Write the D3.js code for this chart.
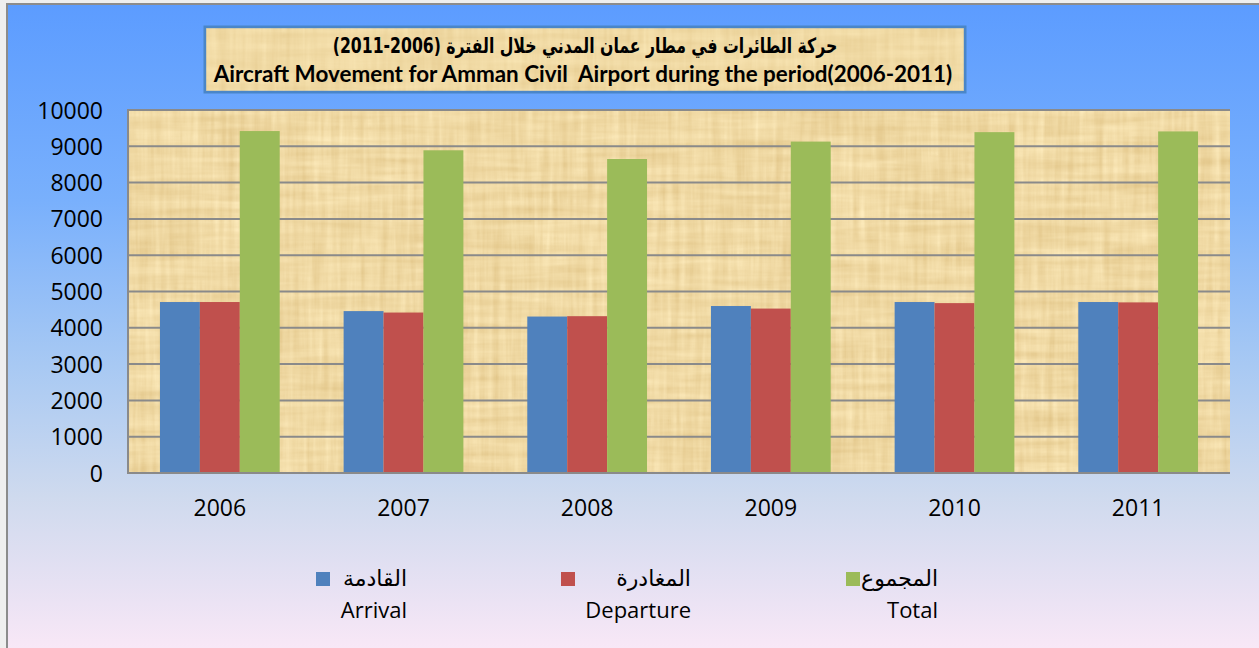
<!DOCTYPE html>
<html>
<head>
<meta charset="utf-8">
<script src="https://cdn.jsdelivr.net/npm/d3@7"></script>
<style>
  html, body { margin: 0; padding: 0; background: #efefef; }
  svg { display: block; }
</style>
</head>
<body>
<svg id="chart" width="1259" height="648"></svg>
<script>
// ---- DATA ----
const years = ["2006", "2007", "2008", "2009", "2010", "2011"];
const arrival   = [4710, 4460, 4310, 4600, 4710, 4710];
const departure = [4710, 4420, 4320, 4530, 4680, 4700];
const total     = [9420, 8890, 8650, 9130, 9390, 9410];
const seriesNamesAr = ["القادمة", "المغادرة", "المجموع"];
const seriesNamesEn = ["Arrival", "Departure", "Total"];
const yTicks = [0, 1000, 2000, 3000, 4000, 5000, 6000, 7000, 8000, 9000, 10000];
const titleAr = "حركة الطائرات في مطار عمان المدني خلال الفترة (2006-2011)";
const titleEn = "Aircraft Movement for Amman Civil  Airport during the period(2006-2011)";

const seriesValues = [arrival, departure, total];
const colors = ["#4f81bd", "#c0504d", "#9bbb59"];

const W = 1259, H = 648;
const svg = d3.select("#chart");
const defs = svg.append("defs");

// background gradient
const bg = defs.append("linearGradient").attr("id", "bgGrad")
  .attr("x1", 0).attr("y1", 0).attr("x2", 0).attr("y2", 1);
[[0, "#5c9cff"], [0.3, "#79b0fc"], [0.55, "#a8c9f3"], [0.75, "#cfdaee"], [0.88, "#e6e1f3"], [1, "#fce9f7"]]
  .forEach(([o, c]) => bg.append("stop").attr("offset", o).attr("stop-color", c));

// papyrus texture filter
const f = defs.append("filter").attr("id", "papyrus")
  .attr("x", 0).attr("y", 0).attr("width", "100%").attr("height", "100%")
  .attr("color-interpolation-filters", "sRGB");
f.append("feTurbulence").attr("type", "fractalNoise").attr("baseFrequency", "0.15 0.01")
  .attr("numOctaves", 3).attr("seed", 4).attr("result", "n1");
f.append("feTurbulence").attr("type", "fractalNoise").attr("baseFrequency", "0.01 0.12")
  .attr("numOctaves", 3).attr("seed", 9).attr("result", "n2");
f.append("feComposite").attr("in", "n1").attr("in2", "n2").attr("operator", "arithmetic")
  .attr("k2", 0.5).attr("k3", 0.5).attr("result", "n");
f.append("feColorMatrix").attr("in", "n").attr("type", "matrix")
  .attr("values", "0.16 0 0 0 0.86  0.22 0 0 0 0.74  0.3 0 0 0 0.49  0 0 0 0 1");

// outer frame
svg.append("rect").attr("x", 7).attr("y", 4).attr("width", W + 10).attr("height", H + 10)
  .attr("fill", "url(#bgGrad)").attr("stroke", "#8c8c8c").attr("stroke-width", 2);

// ---- plot area ----
const plot = { left: 128, top: 110, right: 1230, bottom: 473 };

const x0 = d3.scaleBand().domain(years).range([plot.left, plot.right])
  .paddingInner(0.348).paddingOuter(0.174);
const x1 = d3.scaleBand().domain([0, 1, 2]).range([0, x0.bandwidth()]);
const y = d3.scaleLinear().domain([0, 10000]).range([plot.bottom, plot.top]);

svg.append("rect").attr("x", plot.left).attr("y", plot.top)
  .attr("width", plot.right - plot.left).attr("height", plot.bottom - plot.top)
  .attr("fill", "#efd7a0");
svg.append("rect").attr("x", plot.left).attr("y", plot.top)
  .attr("width", plot.right - plot.left).attr("height", plot.bottom - plot.top)
  .attr("filter", "url(#papyrus)");

// gridlines
svg.append("g").selectAll("line").data(yTicks.filter(d => d > 0)).join("line")
  .attr("x1", plot.left).attr("x2", plot.right)
  .attr("y1", d => y(d)).attr("y2", d => y(d))
  .attr("stroke", "#8a8a8a").attr("stroke-width", 2);

// left border
svg.append("line").attr("x1", plot.left).attr("x2", plot.left)
  .attr("y1", plot.top - 1).attr("y2", plot.bottom + 1)
  .attr("stroke", "#8a8a8a").attr("stroke-width", 2);

// bars
const groups = svg.append("g").selectAll("g").data(years).join("g")
  .attr("transform", d => `translate(${x0(d)},0)`);
groups.selectAll("rect").data((d, i) => seriesValues.map((s, k) => ({ k, v: s[i] }))).join("rect")
  .attr("x", d => x1(d.k)).attr("width", x1.bandwidth())
  .attr("y", d => y(d.v)).attr("height", d => y(0) - y(d.v))
  .attr("fill", d => colors[d.k]);

// bottom axis line
svg.append("line").attr("x1", plot.left - 1).attr("x2", plot.right)
  .attr("y1", plot.bottom).attr("y2", plot.bottom)
  .attr("stroke", "#8a8a8a").attr("stroke-width", 2);

// y axis labels
const yAxis = d3.axisLeft(y).tickValues(yTicks).tickSize(0).tickPadding(0).tickFormat(d3.format("d"));
const gy = svg.append("g").attr("transform", `translate(103,0)`).call(yAxis);
gy.select(".domain").remove();
gy.selectAll("text").attr("font-family", "'Open Sans', sans-serif").attr("font-size", 23)
  .attr("fill", "#000").attr("dy", "0.35em");

// x axis labels
const xAxis = d3.axisBottom(x0).tickSize(0).tickPadding(0);
const gx = svg.append("g").attr("transform", `translate(0,500)`).call(xAxis);
gx.select(".domain").remove();
gx.selectAll("text").attr("font-family", "'Open Sans', sans-serif").attr("font-size", 23)
  .attr("fill", "#000").attr("dy", "0.71em");

// ---- title box ----
svg.append("rect").attr("x", 205).attr("y", 27).attr("width", 760).attr("height", 65)
  .attr("fill", "#f2dca6").attr("stroke", "#4a86c8").attr("stroke-width", 3);
svg.append("rect").attr("x", 206.5).attr("y", 28.5).attr("width", 757).attr("height", 62)
  .attr("filter", "url(#papyrus)").attr("opacity", 0.6);

function fitScale(sel, target, cx) {
  const w = sel.node().getComputedTextLength();
  const s = target / w;
  sel.attr("transform", `translate(${cx},0) scale(${s},1) translate(${-cx},0)`);
}
function fit(sel, target) {
  const w = sel.node().getComputedTextLength();
  const fs = parseFloat(sel.attr("font-size"));
  sel.attr("font-size", fs * target / w);
}

const tAr = svg.append("text").attr("x", 585).attr("y", 53)
  .attr("text-anchor", "middle").attr("direction", "rtl")
  .attr("font-family", "'DejaVu Sans', sans-serif").attr("font-weight", "bold")
  .attr("font-size", 21).attr("fill", "#000").text(titleAr);
fitScale(tAr, 505, 585);

const tEn = svg.append("text").attr("x", 583).attr("y", 82)
  .attr("text-anchor", "middle").style("white-space", "pre")
  .attr("font-family", "Lato, 'Open Sans', sans-serif").attr("font-weight", "bold")
  .attr("font-size", 20).attr("fill", "#000").text(titleEn);
fit(tEn, 739);

// ---- legend ----
const legSquareX = [316, 561, 846];
const legTextRight = [407, 691, 938];
const leg = svg.append("g");
seriesNamesAr.forEach((name, k) => {
  leg.append("rect").attr("x", legSquareX[k]).attr("y", 572).attr("width", 14).attr("height", 14)
    .attr("fill", colors[k]);
  const t = leg.append("text").attr("x", legTextRight[k]).attr("y", 586).attr("text-anchor", "end")
    .attr("font-family", "'DejaVu Sans', sans-serif").attr("font-size", 22).attr("fill", "#000")
    .text(name);
  leg.append("text").attr("x", legTextRight[k]).attr("y", 618).attr("text-anchor", "end")
    .attr("font-family", "'Open Sans', sans-serif").attr("font-size", 22).attr("fill", "#000")
    .text(seriesNamesEn[k]);
});
</script>
</body>
</html>
